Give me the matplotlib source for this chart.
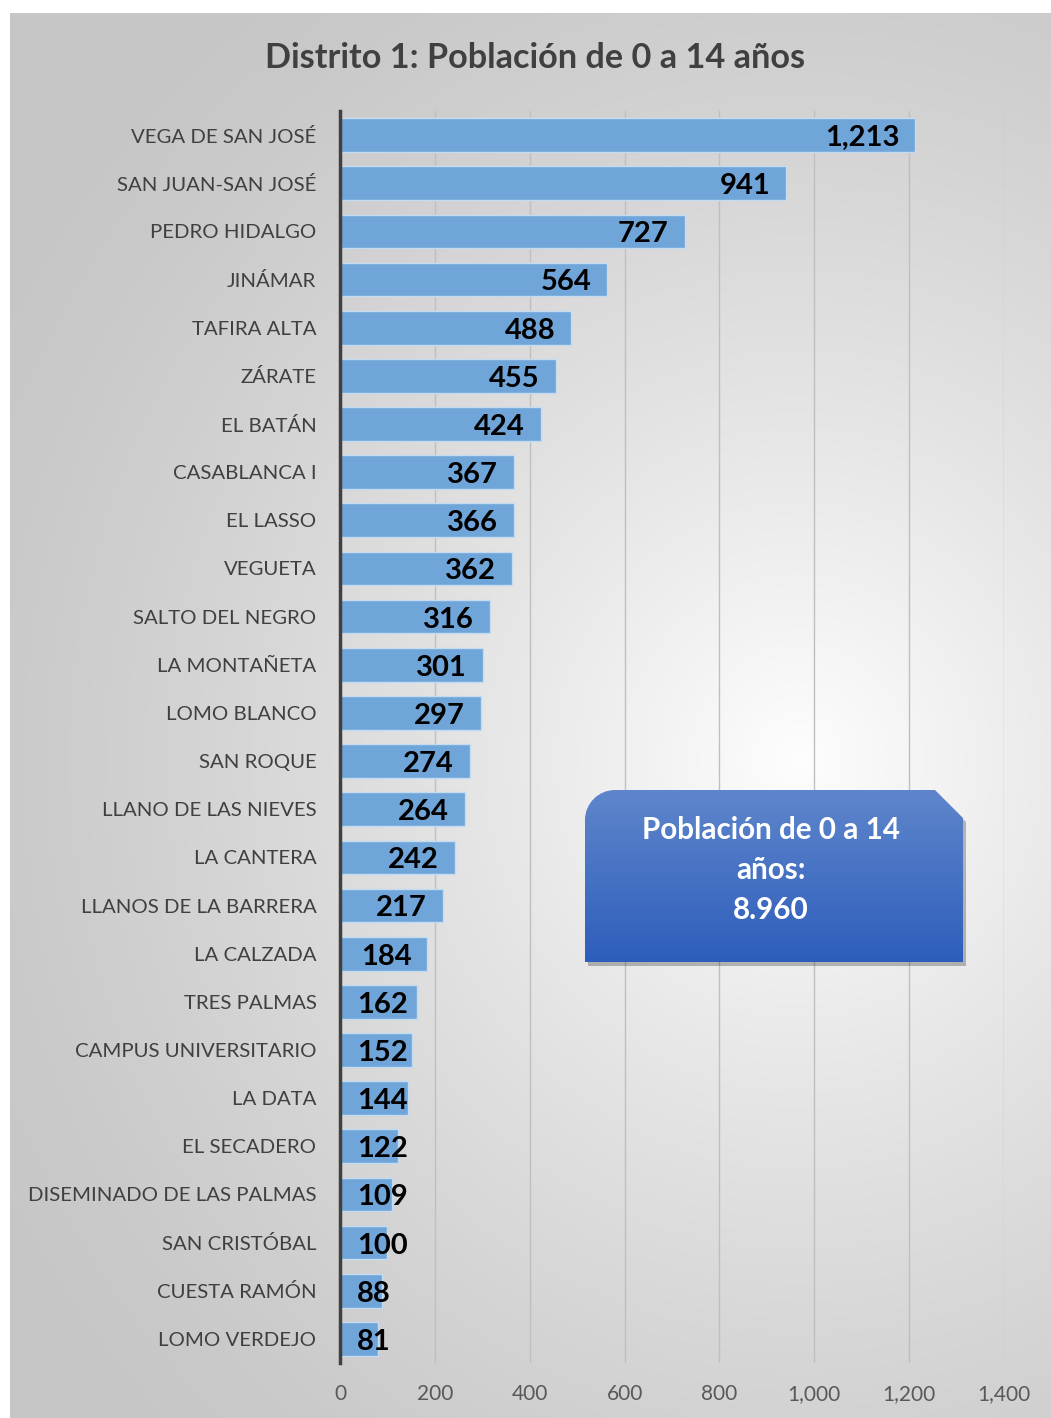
import numpy as np
import matplotlib
matplotlib.use("Agg")
import matplotlib.pyplot as plt
from matplotlib.patches import PathPatch
from matplotlib.path import Path

categories = ["VEGA DE SAN JOSÉ", "SAN JUAN-SAN JOSÉ", "PEDRO HIDALGO", "JINÁMAR",
              "TAFIRA ALTA", "ZÁRATE", "EL BATÁN", "CASABLANCA I", "EL LASSO",
              "VEGUETA", "SALTO DEL NEGRO", "LA MONTAÑETA", "LOMO BLANCO",
              "SAN ROQUE", "LLANO DE LAS NIEVES", "LA CANTERA", "LLANOS DE LA BARRERA",
              "LA CALZADA", "TRES PALMAS", "CAMPUS UNIVERSITARIO", "LA DATA",
              "EL SECADERO", "DISEMINADO DE LAS PALMAS", "SAN CRISTÓBAL",
              "CUESTA RAMÓN", "LOMO VERDEJO"]
values = [1213, 941, 727, 564, 488, 455, 424, 367, 366, 362, 316, 301, 297,
          274, 264, 242, 217, 184, 162, 152, 144, 122, 109, 100, 88, 81]
xticks = [0, 200, 400, 600, 800, 1000, 1200, 1400]
title = "Distrito 1: Población de 0 a 14 años"
box_text = "Población de 0 a 14\naños:\n8.960"

plt.rcParams['font.family'] = ['Lato', 'DejaVu Sans']

W, H = 1051, 1418
fig = plt.figure(figsize=(W / 100, H / 100), dpi=100)
fig.patch.set_facecolor("white")

# background gradient (chart area)
bg = fig.add_axes([0, 0, 1, 1], zorder=0)
bg.set_xlim(0, W)
bg.set_ylim(H, 0)
bg.axis("off")
x0, y0, x1, y1 = 10, 13, W, H
xx, yy = np.meshgrid(np.linspace(x0, x1, 300), np.linspace(y0, y1, 400))
cx, cy = 800, 760
r = np.sqrt(((xx - cx) / 1.0) ** 2 + ((yy - cy) / 1.05) ** 2)
t = np.clip(r / 900, 0, 1)
lo, hi = 0.995, 0.78
g = hi + (lo - hi) * (1 - t) ** 1.3
img = np.dstack([g, g, g])
bg.imshow(img, extent=[x0, x1, y1, y0], aspect="auto", interpolation="bilinear")

# main axes
ax = fig.add_axes([340 / W, 1 - 1363 / H, 664 / W, (1363 - 111) / H], zorder=1)
ax.patch.set_alpha(0)
n = len(categories)
ypos = np.arange(n)
ax.barh(ypos, values, height=0.7, color="#6fa5d9", edgecolor="#c5dcf0",
        linewidth=1.0, zorder=2)
ax.set_ylim(n - 0.5, -0.5)
ax.set_xlim(0, 1400)
ax.set_xticks(xticks)
ax.set_xticklabels([f"{v:,}" for v in xticks], fontsize=15, color="#595959")
ax.set_yticks(ypos)
ax.set_yticklabels(categories, fontsize=14.7, color="#404040")
ax.tick_params(axis="both", length=0)
ax.tick_params(axis="y", pad=17)
ax.tick_params(axis="x", pad=15)
ax.grid(axis="x", color="#bfbfbf", linewidth=1.0, zorder=0)
ax.set_axisbelow(True)
for s in ["top", "right", "bottom"]:
    ax.spines[s].set_visible(False)
ax.spines["left"].set_color("#404040")
ax.spines["left"].set_linewidth(2.5)
ax.spines["left"].set_zorder(3)

fig.canvas.draw()
renderer = fig.canvas.get_renderer()
px_per_unit = ax.transData.transform((1, 0))[0] - ax.transData.transform((0, 0))[0]
for yi, v in zip(ypos, values):
    txt = ax.text(v - 16 / px_per_unit, yi + 0.06, f"{v:,}", ha="right", va="center",
                  fontsize=21, fontweight="bold", color="black", zorder=4)
    bb = txt.get_window_extent(renderer)
    left_lim = ax.transData.transform((0, 0))[0] + 17
    if bb.x0 < left_lim:
        txt.set_ha("left")
        txt.set_x(17 / px_per_unit)

fig.text(535 / W, 1 - 58 / H, title, ha="center", va="center", fontsize=24.7,
         fontweight="bold", color="#404040")

# annotation box
ov = fig.add_axes([0, 0, 1, 1], zorder=5)
ov.set_xlim(0, W)
ov.set_ylim(H, 0)
ov.axis("off")
ov.patch.set_alpha(0)
bx0, by0, bx1, by1 = 585, 790, 963, 962
rad, cut = 30, 28
k = 0.5523 * rad
verts = [(bx0, by1), (bx0, by0 + rad),
         (bx0, by0 + rad - k), (bx0 + rad - k, by0), (bx0 + rad, by0),
         (bx1 - cut, by0), (bx1, by0 + cut), (bx1, by1), (bx0, by1)]
codes = [Path.MOVETO, Path.LINETO, Path.CURVE4, Path.CURVE4, Path.CURVE4,
         Path.LINETO, Path.LINETO, Path.LINETO, Path.CLOSEPOLY]
path = Path(verts, codes)
shadow_path = Path([(x + 3, y + 4) for x, y in verts], codes)
ov.add_patch(PathPatch(shadow_path, facecolor="black", alpha=0.25, edgecolor="none",
                       zorder=1))
grad = np.linspace(0, 1, 256)[:, None]
top = np.array([0x5f, 0x86, 0xcc]) / 255
bot = np.array([0x2e, 0x5e, 0xbb]) / 255
gimg = top[None, None, :] * (1 - grad[..., None]) + bot[None, None, :] * grad[..., None]
gimg = np.repeat(gimg, 2, axis=1)
im = ov.imshow(gimg, extent=[bx0, bx1, by1, by0], aspect="auto", zorder=2,
               interpolation="bilinear")
patch = PathPatch(path, facecolor="none", edgecolor="none", zorder=3)
ov.add_patch(patch)
im.set_clip_path(patch)
ov.text((bx0 + bx1) / 2 - 3, 870, box_text, ha="center", va="center", fontsize=21.3,
        fontweight="bold", color="white", linespacing=1.54, zorder=4)

fig.savefig("out.png", dpi=100)
